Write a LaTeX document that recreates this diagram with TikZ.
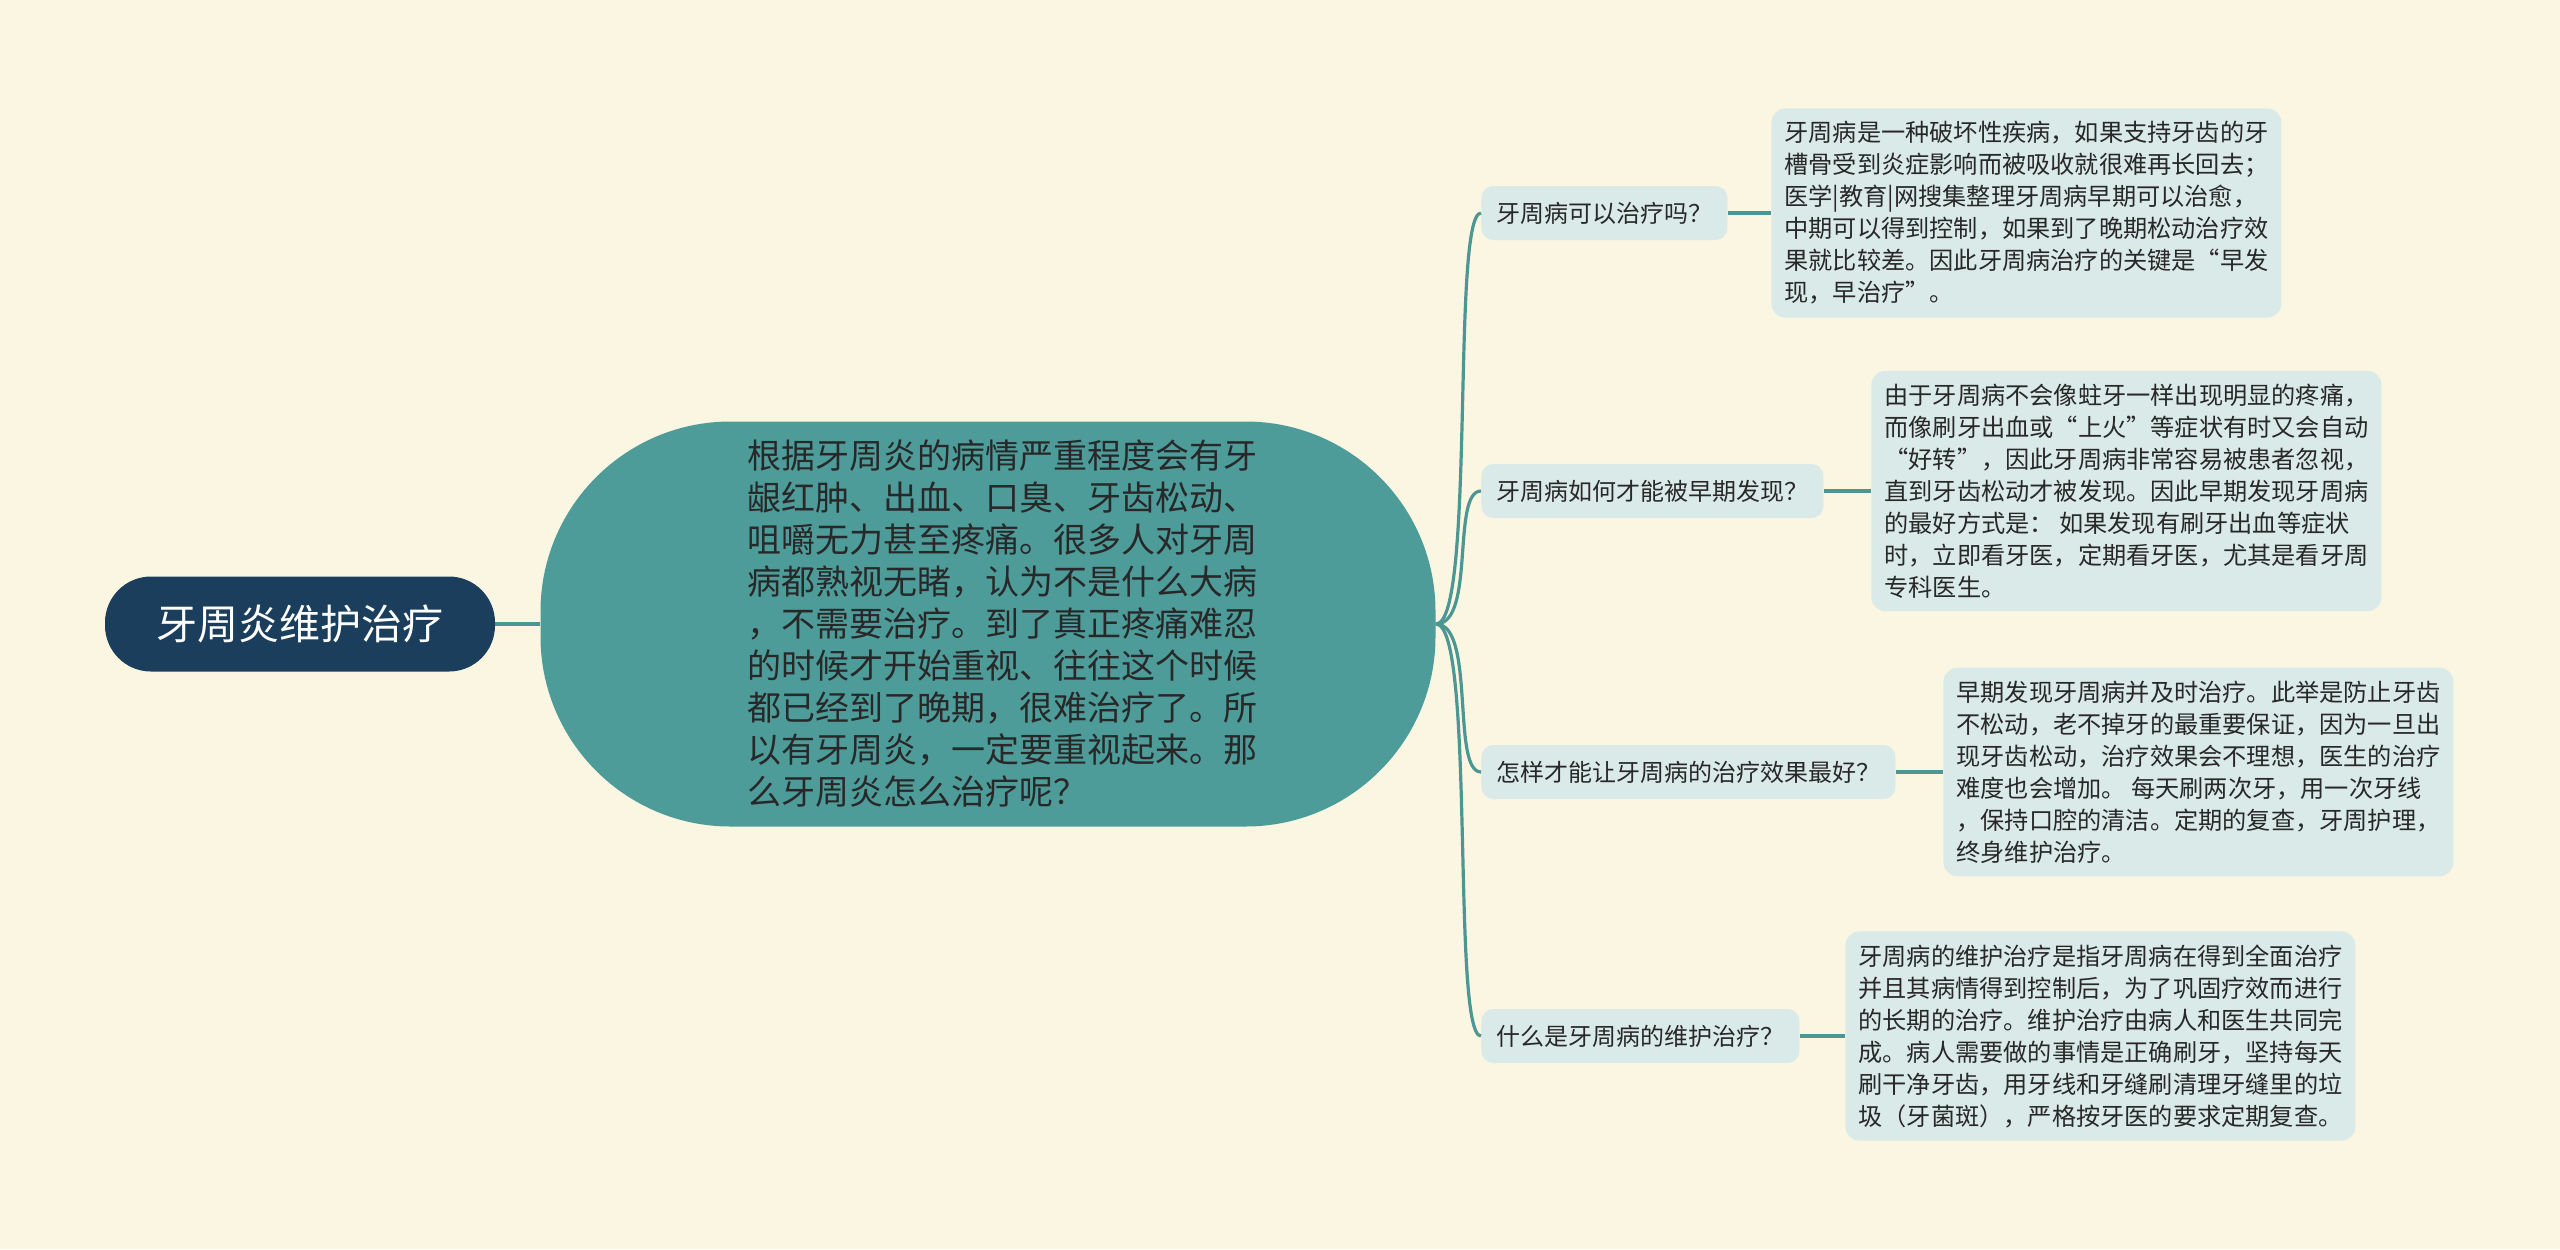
\documentclass[tikz,border=0pt]{standalone}
\usepackage{fontspec}
\setmainfont{Noto Sans CJK SC}
\definecolor{bgcream}{RGB}{250,246,226}
\definecolor{rootnavy}{RGB}{27,62,93}
\definecolor{mainteal}{RGB}{77,156,154}
\definecolor{linkteal}{RGB}{76,150,148}
\definecolor{boxblue}{RGB}{218,234,232}
\definecolor{inktext}{RGB}{40,40,40}

\begin{document}
\begin{tikzpicture}[x=0.5pt,y=0.5pt,yscale=-1,xscale=1,
  link/.style={draw=linkteal,line width=1.6pt},
  question/.style={anchor=west,fill=boxblue,rounded corners=6pt,inner xsep=7.5pt,
    minimum height=27pt,text=inktext,font=\fontsize{12pt}{14pt}\selectfont},
  answer/.style={anchor=west,fill=boxblue,rounded corners=7pt,inner xsep=6.5pt,inner ysep=6.5pt,
    align=left,text=inktext,font=\fontsize{12.1pt}{16pt}\selectfont}]
\useasboundingbox (0,0) rectangle (2560,1249);
\fill[bgcream] (0,0) rectangle (2560,1249);

% Root
\node[fill=rootnavy,text=white,rounded corners=23pt,minimum width=195pt,minimum height=47.5pt,
  font=\fontsize{20.5pt}{24pt}\selectfont] (root) at (300,624) {牙周炎维护治疗};

% Main topic
\node[fill=mainteal,rounded corners=95pt,minimum width=447.5pt,minimum height=202.5pt] (main) at (988,624) {};
\node[text=inktext,align=left,font=\fontsize{17pt}{21pt}\selectfont] (maintext) at (1002,624)
  {根据牙周炎的病情严重程度会有牙\\龈红肿、出血、口臭、牙齿松动、\\咀嚼无力甚至疼痛。很多人对牙周\\病都熟视无睹，认为不是什么大病\\，不需要治疗。到了真正疼痛难忍\\的时候才开始重视、往往这个时候\\都已经到了晚期，很难治疗了。所\\以有牙周炎，一定要重视起来。那\\么牙周炎怎么治疗呢？};

% Questions
\node[question] (q1) at (1481,213) {牙周病可以治疗吗？};
\node[question] (q2) at (1481,491) {牙周病如何才能被早期发现？};
\node[question] (q3) at (1481,772) {怎样才能让牙周病的治疗效果最好？};
\node[question] (q4) at (1481,1036) {什么是牙周病的维护治疗？};

% Answers
\node[answer] (a1) at (1771,213)
  {牙周病是一种破坏性疾病，如果支持牙齿的牙\\槽骨受到炎症影响而被吸收就很难再长回去；\\医学|教育|网搜集整理牙周病早期可以治愈，\\中期可以得到控制，如果到了晚期松动治疗效\\果就比较差。因此牙周病治疗的关键是“早发\\现，早治疗”。};
\node[answer] (a2) at (1871,491)
  {由于牙周病不会像蛀牙一样出现明显的疼痛，\\而像刷牙出血或“上火”等症状有时又会自动\\“好转”，因此牙周病非常容易被患者忽视，\\直到牙齿松动才被发现。因此早期发现牙周病\\的最好方式是： 如果发现有刷牙出血等症状\\时，立即看牙医，定期看牙医，尤其是看牙周\\专科医生。};
\node[answer] (a3) at (1943,772)
  {早期发现牙周病并及时治疗。此举是防止牙齿\\不松动，老不掉牙的最重要保证，因为一旦出\\现牙齿松动，治疗效果会不理想，医生的治疗\\难度也会增加。 每天刷两次牙，用一次牙线\\，保持口腔的清洁。定期的复查，牙周护理，\\终身维护治疗。};
\node[answer] (a4) at (1845,1036)
  {牙周病的维护治疗是指牙周病在得到全面治疗\\并且其病情得到控制后，为了巩固疗效而进行\\的长期的治疗。维护治疗由病人和医生共同完\\成。病人需要做的事情是正确刷牙，坚持每天\\刷干净牙齿，用牙线和牙缝刷清理牙缝里的垃\\圾（牙菌斑），严格按牙医的要求定期复查。};

% Links
\draw[link] (root.east) -- (main.west);
\foreach \q in {q1,q2,q3,q4}
  \draw[link] (main.east) .. controls +(40,0) and +(-30,0) .. (\q.west);
\draw[link] (q1.east) -- (a1.west);
\draw[link] (q2.east) -- (a2.west);
\draw[link] (q3.east) -- (a3.west);
\draw[link] (q4.east) -- (a4.west);

\end{tikzpicture}
\end{document}
